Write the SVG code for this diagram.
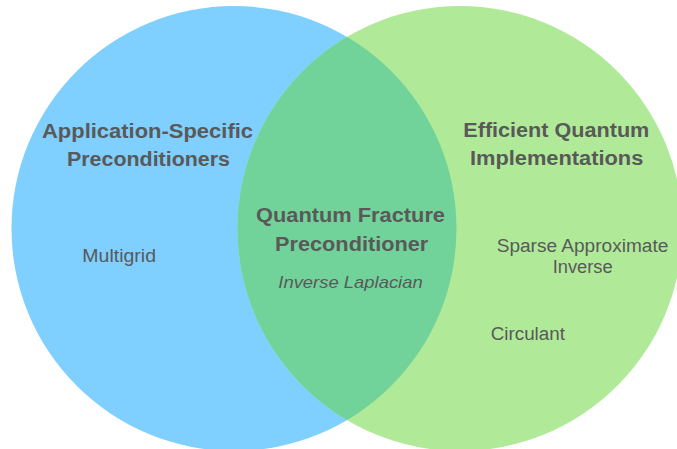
<svg xmlns="http://www.w3.org/2000/svg" width="677" height="449" viewBox="0 0 677 449">
<style>
.t{font-family:"Liberation Sans",Arial,sans-serif;fill:#595959}
.h{font-size:20px;font-weight:bold}
.r{font-size:18px}
.i{font-size:17px;font-style:italic}
</style>
<defs>
<clipPath id="clipLeft"><circle cx="234" cy="228.5" r="222.5"/></clipPath>
</defs>
<rect width="677" height="449" fill="#ffffff"/>
<g id="set-application-specific">
<circle cx="234" cy="228.5" r="222.5" fill="#7FCFFF"/>
</g>
<g id="set-efficient-quantum">
<circle cx="460" cy="228.5" r="222.5" fill="#B0EA99"/>
</g>
<g id="intersection">
<circle cx="460" cy="228.5" r="222.5" fill="#71D39A" clip-path="url(#clipLeft)"/>
</g>
<g id="label-left">
<text class="t h" x="42" y="137.5" textLength="211" lengthAdjust="spacingAndGlyphs">Application-Specific</text>
<text class="t h" x="67" y="165.5" textLength="163" lengthAdjust="spacingAndGlyphs">Preconditioners</text>
<text class="t r" x="82.3" y="261.7" textLength="73.7" lengthAdjust="spacingAndGlyphs">Multigrid</text>
</g>
<g id="label-right">
<text class="t h" x="463.3" y="137" textLength="186" lengthAdjust="spacingAndGlyphs">Efficient Quantum</text>
<text class="t h" x="470" y="165.3" textLength="173.3" lengthAdjust="spacingAndGlyphs">Implementations</text>
<text class="t r" x="496.7" y="251.7" textLength="171.6" lengthAdjust="spacingAndGlyphs">Sparse Approximate</text>
<text class="t r" x="552.7" y="273.3" textLength="60" lengthAdjust="spacingAndGlyphs">Inverse</text>
<text class="t r" x="490.7" y="339.5" textLength="74.3" lengthAdjust="spacingAndGlyphs">Circulant</text>
</g>
<g id="label-center">
<text class="t h" x="256" y="222.3" textLength="189" lengthAdjust="spacingAndGlyphs">Quantum Fracture</text>
<text class="t h" x="275" y="250.7" textLength="153.3" lengthAdjust="spacingAndGlyphs">Preconditioner</text>
<text class="t i" x="278.3" y="287.7" textLength="144.4" lengthAdjust="spacingAndGlyphs">Inverse Laplacian</text>
</g>
<g id="connectors"/>
</svg>
